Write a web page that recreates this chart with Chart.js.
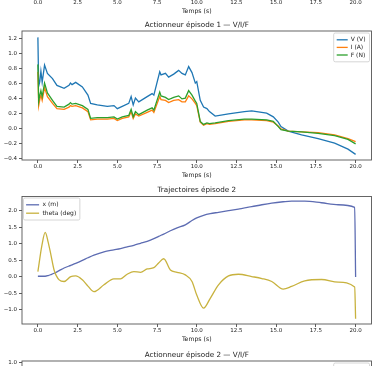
<!DOCTYPE html>
<html>
<head>
<meta charset="utf-8">
<script src="https://cdn.jsdelivr.net/npm/chart.js@4.4.0/dist/chart.umd.min.js"></script>
<style>
  html, body { margin: 0; padding: 0; background: #fff; width: 375px; height: 366px; overflow: hidden; }
  canvas { position: absolute; left: 0; }
</style>
</head>
<body>
<canvas id="c0" width="375" height="66" style="top:-50px"></canvas>
<canvas id="c1" width="375" height="163" style="top:17px"></canvas>
<canvas id="c2" width="375" height="163" style="top:181px"></canvas>
<canvas id="c3" width="375" height="200" style="top:345px"></canvas>
<script>
// axes ticks
const timeTicks = [0, 2.5, 5, 7.5, 10, 12.5, 15, 17.5, 20];
const act1Ticks = [-0.4, -0.2, 0, 0.2, 0.4, 0.6, 0.8, 1.0, 1.2];
const traj2Ticks = [-1.0, -0.5, 0, 0.5, 1.0, 1.5, 2.0];
const act2Ticks = [-0.4, -0.2, 0, 0.2, 0.4, 0.6, 0.8, 1.0];

// Actionneur épisode 1
const ep1Time = [0, 0.05, 0.12, 0.19, 0.27, 0.42, 0.6, 0.92, 1.2, 1.65, 1.96, 2.05, 2.15, 2.38, 2.8,
  3.15, 3.32, 3.74, 4.37, 4.79, 5.0, 5.31, 5.72, 5.87, 6.0, 6.14, 6.35, 6.88, 7.19, 7.3, 7.67, 7.75,
  8.03, 8.23, 8.55, 8.86, 9.07, 9.28, 9.49, 9.7, 9.91, 10.0, 10.22, 10.43, 10.64, 10.8, 11.16, 12.0,
  13.0, 13.46, 14.4, 14.82, 15.13, 15.3, 15.76, 16.6, 17.64, 18.68, 19.52, 20.0];
const ep1V = [1.21, 0.56, 0.62, 0.76, 0.61, 0.84, 0.73, 0.66, 0.57, 0.53, 0.57, 0.60, 0.58, 0.61, 0.55,
  0.44, 0.33, 0.31, 0.29, 0.30, 0.26, 0.29, 0.33, 0.42, 0.31, 0.40, 0.35, 0.42, 0.46, 0.44, 0.75, 0.71,
  0.73, 0.68, 0.72, 0.77, 0.73, 0.71, 0.82, 0.74, 0.60, 0.62, 0.37, 0.28, 0.26, 0.22, 0.16, 0.19,
  0.22, 0.23, 0.20, 0.15, 0.08, 0.02, -0.04, -0.09, -0.14, -0.20, -0.28, -0.35];
const ep1I = [0.75, 0.30, 0.38, 0.44, 0.37, 0.54, 0.42, 0.33, 0.26, 0.25, 0.28, 0.30, 0.29, 0.30, 0.27,
  0.22, 0.11, 0.12, 0.12, 0.13, 0.10, 0.13, 0.15, 0.22, 0.13, 0.19, 0.16, 0.21, 0.24, 0.21, 0.42, 0.38,
  0.37, 0.34, 0.37, 0.38, 0.35, 0.35, 0.43, 0.39, 0.33, 0.30, 0.08, 0.04, 0.06, 0.05, 0.06, 0.09,
  0.11, 0.11, 0.10, 0.08, 0.03, -0.01, -0.04, -0.05, -0.06, -0.09, -0.14, -0.18];
const ep1F = [0.85, 0.36, 0.44, 0.50, 0.42, 0.60, 0.47, 0.37, 0.29, 0.28, 0.32, 0.34, 0.32, 0.33, 0.30,
  0.25, 0.13, 0.14, 0.14, 0.15, 0.12, 0.15, 0.17, 0.25, 0.15, 0.22, 0.18, 0.24, 0.27, 0.24, 0.48, 0.43,
  0.41, 0.38, 0.41, 0.43, 0.39, 0.40, 0.50, 0.44, 0.36, 0.33, 0.09, 0.05, 0.07, 0.06, 0.07, 0.10,
  0.12, 0.12, 0.11, 0.09, 0.02, -0.02, -0.04, -0.05, -0.07, -0.10, -0.15, -0.21];

// Trajectoires épisode 2
const ep2Time = [0, 0.25, 0.46, 0.65, 0.82, 1.02, 1.34, 1.65, 2.07, 2.38, 2.8, 3.15, 3.53, 4.16, 4.78,
  5.2, 5.62, 6.04, 6.46, 6.88, 7.3, 7.6, 7.92, 8.34, 8.76, 9.28, 9.7, 10.0, 10.43, 10.85, 11.37, 12.0,
  12.62, 13.46, 14.1, 14.72, 15.44, 15.97, 16.8, 17.85, 18.9, 19.94, 20.0];
const ep2X = [0.02, 0.02, 0.02, 0.04, 0.07, 0.11, 0.19, 0.27, 0.35, 0.41, 0.50, 0.58, 0.66, 0.76, 0.82,
  0.86, 0.91, 0.96, 1.02, 1.08, 1.16, 1.23, 1.30, 1.40, 1.49, 1.58, 1.71, 1.79, 1.87, 1.92, 1.96, 2.01,
  2.06, 2.13, 2.19, 2.24, 2.28, 2.30, 2.30, 2.25, 2.19, 2.11, 0.00];
const ep2Theta = [0.16, 0.95, 1.35, 1.05, 0.67, 0.21, -0.09, -0.14, 0.01, 0.03, -0.09, -0.28, -0.45, -0.24, -0.06,
  -0.06, 0.08, 0.16, 0.14, 0.24, 0.28, 0.42, 0.55, 0.21, 0.14, 0.06, -0.14, -0.55, -0.95, -0.65, -0.24, 0.03,
  0.08, 0.01, -0.05, -0.14, -0.37, -0.29, -0.12, -0.08, -0.16, -0.31, -1.27];

// Actionneur épisode 2 (hors cadre)
const ep2Time2 = [];
const ep2V = [];
const ep2I = [];
const ep2F = [];

Chart.defaults.font.family = '"DejaVu Sans", sans-serif';
Chart.defaults.color = '#222';

const fmt = v => (v < 0 ? '\u2212' : '') + Math.abs(v).toFixed(1);
const pts = (xs, ys) => xs.map((x, i) => ({ x: x, y: ys[i] }));

// cadre complet façon matplotlib
const frame = {
  id: 'frame',
  afterDatasetsDraw(chart) {
    const { ctx, chartArea: a } = chart;
    ctx.save();
    ctx.strokeStyle = '#555';
    ctx.lineWidth = 0.9;
    ctx.strokeRect(a.left, a.top, a.right - a.left, a.bottom - a.top);
    ctx.restore();
  }
};

// titre centré sur la zone du graphe (comme matplotlib)
const axTitle = {
  id: 'axTitle',
  afterDraw(chart, args, opts) {
    if (!opts || !opts.text) return;
    const { ctx, chartArea: a } = chart;
    ctx.save();
    ctx.font = opts.size + 'px "DejaVu Sans", sans-serif';
    ctx.fillStyle = '#222';
    ctx.textAlign = 'center';
    ctx.textBaseline = 'middle';
    ctx.fillText(opts.text, (a.left + a.right) / 2, opts.y);
    ctx.restore();
  }
};

// légende dans la zone du graphe
const innerLegend = {
  id: 'innerLegend',
  afterDraw(chart, args, opts) {
    if (!opts || !opts.display) return;
    const { ctx, chartArea } = chart;
    const items = chart.data.datasets;
    ctx.save();
    ctx.font = opts.fontSize + 'px "DejaVu Sans", sans-serif';
    const textW = Math.max(...items.map(d => ctx.measureText(d.label).width));
    const w = opts.pad * 2 + opts.handle + opts.gap + textW + 1;
    const h = opts.pad * 2 + opts.row * items.length;
    const x = opts.align === 'right' ? chartArea.right - opts.inset - w : chartArea.left + opts.inset;
    const y = chartArea.top + opts.inset;
    ctx.fillStyle = 'rgba(255,255,255,0.8)';
    ctx.strokeStyle = '#cccccc';
    ctx.lineWidth = 0.8;
    ctx.beginPath();
    ctx.roundRect(x, y, w, h, 1.5);
    ctx.fill();
    ctx.stroke();
    items.forEach((d, i) => {
      const cy = y + opts.pad + opts.row * (i + 0.5);
      ctx.strokeStyle = d.borderColor;
      ctx.lineWidth = 1.3;
      ctx.beginPath();
      ctx.moveTo(x + opts.pad, cy);
      ctx.lineTo(x + opts.pad + opts.handle, cy);
      ctx.stroke();
      ctx.fillStyle = '#222';
      ctx.textBaseline = 'middle';
      ctx.fillText(d.label, x + opts.pad + opts.handle + opts.gap, cy);
    });
    ctx.restore();
  }
};

function makeChart(id, o) {
  return new Chart(document.getElementById(id), {
    type: 'line',
    data: { datasets: o.datasets },
    options: {
      responsive: false,
      animation: false,
      layout: { padding: { left: 0, right: 3.5, top: o.top || 0, bottom: 0 } },
      elements: { point: { radius: 0 }, line: { borderWidth: 1.3, tension: 0 } },
      scales: {
        x: {
          type: 'linear', min: -1, max: 21,
          afterBuildTicks: s => { s.ticks = timeTicks.map(v => ({ value: v })); },
          afterFit: s => { s.height = 20; },
          ticks: { font: { size: 5.5 }, padding: 0.5, maxRotation: 0, autoSkip: false, callback: v => fmt(v) },
          grid: { drawOnChartArea: false, tickLength: 3, color: '#333', lineWidth: 0.8 },
          border: { display: false },
          title: { display: true, text: 'Temps (s)', font: { size: 6.2 }, padding: { top: 0, bottom: 1.3 } }
        },
        y: {
          type: 'linear', min: o.yMin, max: o.yMax,
          afterBuildTicks: s => { s.ticks = (o.yTicks || []).map(v => ({ value: v })); },
          afterFit: s => { s.width = 22; },
          ticks: { display: !!o.yTicks, font: { size: 5.5 }, padding: 2, callback: v => fmt(v) },
          grid: { display: !!o.yTicks, drawOnChartArea: false, tickLength: 3, color: '#333', lineWidth: 0.8 },
          border: { display: false }
        }
      },
      plugins: {
        legend: { display: false },
        tooltip: { enabled: false },
        title: { display: false },
        axTitle: { text: o.title, y: o.titleY, size: 7.2 },
        innerLegend: o.legend || { display: false }
      }
    },
    plugins: [frame, axTitle, innerLegend]
  });
}

const legendRight = { display: true, align: 'right', inset: 2, pad: 3, handle: 11, gap: 3, row: 7.6, fontSize: 6 };

// bas du graphe précédent (coupé)
makeChart('c0', { datasets: [], yMin: 0, yMax: 1, yTicks: null });

makeChart('c1', {
  title: 'Actionneur épisode 1 \u2014 V/I/F',
  top: 14, titleY: 8,
  yMin: -0.425, yMax: 1.295, yTicks: act1Ticks,
  legend: legendRight,
  datasets: [
    { label: 'V (V)', data: pts(ep1Time, ep1V), borderColor: '#1f77b4', order: 2 },
    { label: 'I (A)', data: pts(ep1Time, ep1I), borderColor: '#ff7f0e', order: 1 },
    { label: 'F (N)', data: pts(ep1Time, ep1F), borderColor: '#2ca02c', order: 0 }
  ]
});

makeChart('c2', {
  title: 'Trajectoires épisode 2',
  top: 15.5, titleY: 9,
  yMin: -1.43, yMax: 2.44, yTicks: traj2Ticks,
  legend: { display: true, align: 'left', inset: 1.5, pad: 2.6, handle: 13, gap: 3.4, row: 8.4, fontSize: 6 },
  datasets: [
    { label: 'x (m)', data: pts(ep2Time, ep2X), borderColor: '#5d6cb2', cubicInterpolationMode: 'monotone', order: 1 },
    { label: 'theta (deg)', data: pts(ep2Time, ep2Theta), borderColor: '#c8b23e', cubicInterpolationMode: 'monotone', order: 0 }
  ]
});

makeChart('c3', {
  title: 'Actionneur épisode 2 \u2014 V/I/F',
  top: 16, titleY: 10,
  yMin: -0.45, yMax: 1.01, yTicks: act2Ticks,
  legend: legendRight,
  datasets: [
    { label: 'V (V)', data: pts(ep2Time2, ep2V), borderColor: '#1f77b4', order: 2 },
    { label: 'I (A)', data: pts(ep2Time2, ep2I), borderColor: '#ff7f0e', order: 1 },
    { label: 'F (N)', data: pts(ep2Time2, ep2F), borderColor: '#2ca02c', order: 0 }
  ]
});
</script>
</body>
</html>
